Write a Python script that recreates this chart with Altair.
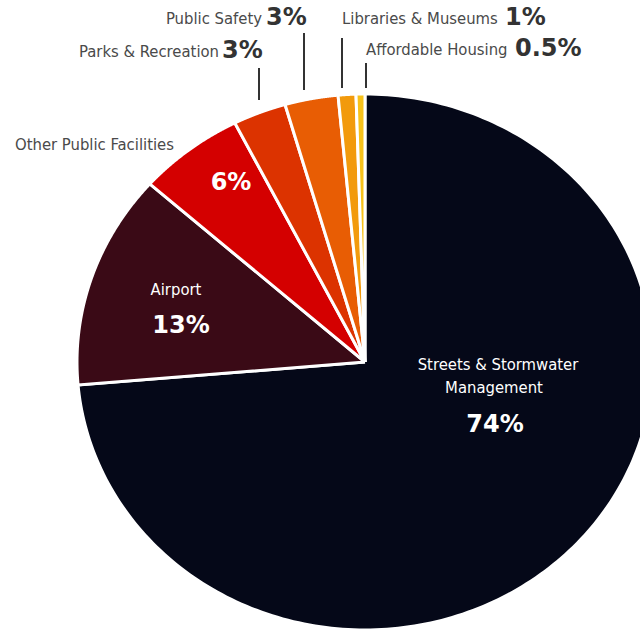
import altair as alt
import pandas as pd

# ---- data ----
categories = ["Streets & Stormwater Management", "Airport", "Other Public Facilities",
              "Parks & Recreation", "Public Safety", "Libraries & Museums", "Affordable Housing"]
values = [74, 13, 6, 3, 3, 1, 0.5]
pct_labels = ["74%", "13%", "6%", "3%", "3%", "1%", "0.5%"]
colors = ["#050818", "#3a0a16", "#d40000", "#dc3300", "#e85d04", "#f29a0c", "#f7c21a"]

# ---- layout ----
W, H = 640, 631
CX, CY = 365, 362
RX, RY = 288, 268
N = 240

df = pd.DataFrame({"category": categories, "value": values, "order": list(range(len(values)))})

pie = (
    alt.Chart(df)
    .transform_window(cum="sum(value)", sort=[alt.SortField("order")], frame=[None, 0])
    .transform_joinaggregate(total="sum(value)")
    .transform_calculate(
        start="(datum.cum - datum.value) / datum.total * 2 * PI",
        end="datum.cum / datum.total * 2 * PI",
        pts=f"sequence(-1, {N + 2})",
    )
    .transform_flatten(["pts"], as_=["t"])
    .transform_calculate(
        frac=f"clamp(datum.t / {N}, 0, 1)",
        r=f"(datum.t < 0 || datum.t > {N}) ? 0 : 1",
    )
    .transform_calculate(theta="datum.start + datum.frac * (datum.end - datum.start)")
    .transform_calculate(
        px=f"datum.r * {RX} * sin(datum.theta)",
        py=f"datum.r * {RY} * cos(datum.theta)",
    )
    .mark_line(stroke="white", strokeWidth=3, strokeJoin="miter")
    .encode(
        x=alt.X("px:Q", scale=alt.Scale(domain=[-CX, W - CX], nice=False, zero=False), axis=None),
        y=alt.Y("py:Q", scale=alt.Scale(domain=[CY - H, CY], nice=False, zero=False), axis=None),
        order=alt.Order("t:Q"),
        detail="category:N",
        fill=alt.Fill("category:N", scale=alt.Scale(domain=categories, range=colors), legend=None),
    )
)

REG = "Liberation Sans Narrow, DejaVu Sans Condensed, Roboto Condensed, Arial Narrow, sans-serif"
BOLD = "DejaVu Sans, Verdana, sans-serif"
GREY = "#4a4a4a"
DARK = "#333333"


def txt(text, x, y, size, bold, color, align):
    return (
        alt.Chart(pd.DataFrame({"label": [text]}))
        .mark_text(align=align, baseline="middle", fontSize=size,
                   fontWeight="bold" if bold else "normal", color=color,
                   font=BOLD if bold else REG)
        .encode(x=alt.value(x), y=alt.value(y), text="label:N")
    )


def rule(x, y1, y2):
    return (
        alt.Chart(pd.DataFrame({"a": [0]}))
        .mark_rule(color=DARK, strokeWidth=2)
        .encode(x=alt.value(x), y=alt.value(y1), y2=alt.value(y2))
    )


RS = 16.5
layers = [
    pie,
    # outside labels
    txt("Public Safety", 262, 19, RS, False, GREY, "right"),
    txt(pct_labels[4], 266, 18, 24, True, DARK, "left"),
    txt("Parks & Recreation", 219, 52, RS, False, GREY, "right"),
    txt(pct_labels[3], 222, 51, 24, True, DARK, "left"),
    txt("Libraries & Museums", 342, 19, RS, False, GREY, "left"),
    txt(pct_labels[5], 505, 18, 24, True, DARK, "left"),
    txt("Affordable Housing", 366, 50, RS, False, GREY, "left"),
    txt(pct_labels[6], 515, 49, 24, True, DARK, "left"),
    txt("Other Public Facilities", 15, 145, RS, False, GREY, "left"),
    # inside labels
    txt(pct_labels[2], 231, 183, 24, True, "white", "center"),
    txt("Airport", 176, 290, RS, False, "white", "center"),
    txt(pct_labels[1], 181, 326, 24, True, "white", "center"),
    txt("Streets & Stormwater", 498, 365, RS, False, "white", "center"),
    txt("Management", 494, 388, RS, False, "white", "center"),
    txt(pct_labels[0], 495, 425, 24, True, "white", "center"),
    # leader lines
    rule(259, 68, 100),
    rule(304, 33, 90),
    rule(342, 38, 88),
    rule(366, 63, 88),
]

chart = (
    alt.layer(*layers)
    .properties(width=W, height=H, padding=0, autosize=alt.AutoSizeParams(type="none"))
    .configure_view(stroke=None)
)

chart.save("out.html", embed_options={"renderer": "svg", "actions": False})
